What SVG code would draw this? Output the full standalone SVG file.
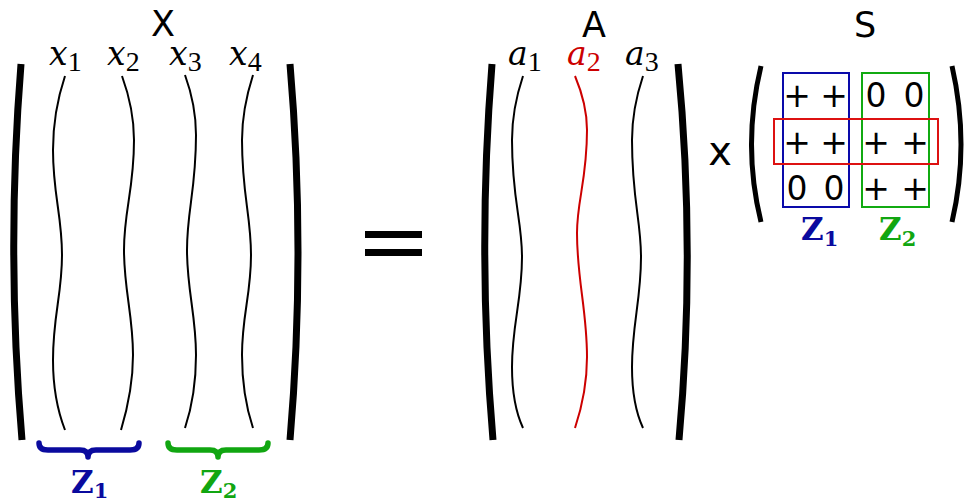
<svg xmlns="http://www.w3.org/2000/svg" width="965" height="502" viewBox="0 0 965 502">
<style>
.bar{fill:none;stroke:#000;stroke-width:7}
.par{fill:none;stroke:#000;stroke-width:5}
.crv{fill:none;stroke:#000;stroke-width:2}
.red{stroke:#cc0000}
.sans{font-family:"DejaVu Sans",sans-serif;fill:#000}
.mi{font-family:"DejaVu Serif",serif;font-style:italic;font-size:33px}
.sub{font-family:"Liberation Serif",serif;font-style:normal;font-size:28px}
.bz{font-family:"DejaVu Serif",serif;font-weight:bold;font-size:31px}
.bzs{font-family:"DejaVu Serif",serif;font-weight:bold;font-size:21px}
.ent{font-family:"DejaVu Sans",sans-serif;font-size:33px;text-anchor:middle}
.brace{fill:none;stroke-width:5.5;stroke-linecap:round;stroke-linejoin:round}
</style>
<rect width="965" height="502" fill="#fff"/>
<g id="matrixX">
  <text class="sans" x="163" y="36" font-size="35" text-anchor="middle">X</text>
  <path class="bar" d="M21 64 Q6 252 22 440"/>
  <path class="bar" d="M290 64 Q306 252 290 440"/>
  <path class="crv" d="M65 76 C57 100 53 125 53 150 C53 195 62 215 62 255 C62 295 53 315 53 360 C53 390 58 412 65 430"/>
  <path class="crv" d="M122 76 C130 98 134 118 134 140 C134 190 124 210 124 250 C124 290 133 315 133 355 C133 385 127 410 121 430"/>
  <path class="crv" d="M185 75 C193 97 196 115 196 135 C196 190 187 210 187 250 C187 290 196 315 196 355 C196 385 191 410 185 428"/>
  <path class="crv" d="M253 75 C245 100 242 120 242 140 C242 195 251 215 251 255 C251 295 242 315 242 355 C242 385 247 410 253 428"/>
  <text x="49" y="65"><tspan class="mi">x</tspan><tspan class="sub" dy="6">1</tspan></text>
  <text x="107" y="65"><tspan class="mi">x</tspan><tspan class="sub" dy="6">2</tspan></text>
  <text x="169" y="65"><tspan class="mi">x</tspan><tspan class="sub" dy="6">3</tspan></text>
  <text x="229" y="65"><tspan class="mi">x</tspan><tspan class="sub" dy="6">4</tspan></text>
</g>
<g id="bracesX">
  <path class="brace" stroke="#0a0a9e" d="M39 443 Q39 450 48 450 L80 450 Q88 450 88 457 Q88 450 96 450 L130 450 Q139 450 139 443"/>
  <path class="brace" stroke="#11a611" d="M168 443 Q168 450 177 450 L210 450 Q218 450 218 457 Q218 450 226 450 L259 450 Q268 450 268 443"/>
  <text x="71" y="493" fill="#0a0a9e"><tspan class="bz">Z</tspan><tspan class="bzs" dy="5">1</tspan></text>
  <text x="200" y="493" fill="#11a611"><tspan class="bz">Z</tspan><tspan class="bzs" dy="5">2</tspan></text>
</g>
<g id="equals">
  <rect x="365" y="231" width="57" height="7" fill="#000"/>
  <rect x="365" y="249" width="57" height="7" fill="#000"/>
</g>
<g id="matrixA">
  <text class="sans" x="594" y="37" font-size="35" text-anchor="middle">A</text>
  <path class="bar" d="M492 64 Q477 252 493 440"/>
  <path class="bar" d="M678 64 Q696 252 679 440"/>
  <path class="crv" d="M523 76 C515 100 512 120 512 140 C512 200 522 220 522 257 C522 300 512 325 512 367 C512 395 517 415 523 428"/>
  <path class="crv red" d="M575 76 C583 95 587 112 587 130 C587 180 577 200 577 233 C577 280 587 310 587 357 C587 385 581 410 575 428"/>
  <path class="crv" d="M643 76 C635 100 632 120 632 140 C632 200 641 220 641 257 C641 300 632 325 632 367 C632 395 637 415 643 428"/>
  <text x="508" y="65"><tspan class="mi">a</tspan><tspan class="sub" dy="6">1</tspan></text>
  <text x="567" y="65" fill="#cc0000"><tspan class="mi">a</tspan><tspan class="sub" dy="6">2</tspan></text>
  <text x="625" y="65"><tspan class="mi">a</tspan><tspan class="sub" dy="6">3</tspan></text>
</g>
<g id="times">
  <text class="sans" x="720" y="165" font-size="40" text-anchor="middle">x</text>
</g>
<g id="matrixS">
  <text class="sans" x="865" y="37" font-size="35" text-anchor="middle">S</text>
  <path class="par" d="M761 66 Q742 145 761 222"/>
  <path class="par" d="M952 66 Q970 145 952 222"/>
  <text class="ent" x="797" y="107">+</text><text class="ent" x="834" y="107">+</text><text class="ent" x="876" y="107">0</text><text class="ent" x="914" y="107">0</text>
  <text class="ent" x="797" y="154">+</text><text class="ent" x="834" y="154">+</text><text class="ent" x="876" y="154">+</text><text class="ent" x="915" y="154">+</text>
  <text class="ent" x="797" y="200">0</text><text class="ent" x="834" y="200">0</text><text class="ent" x="876" y="200">+</text><text class="ent" x="915" y="200">+</text>
  <rect x="783" y="73" width="66" height="134" fill="none" stroke="#0a0aaa" stroke-width="2"/>
  <rect x="862" y="73" width="67" height="134" fill="none" stroke="#11aa11" stroke-width="2"/>
  <rect x="774" y="119" width="164" height="45" fill="none" stroke="#dd1111" stroke-width="2"/>
  <text x="801" y="240" fill="#0a0a9e"><tspan class="bz">Z</tspan><tspan class="bzs" dy="6">1</tspan></text>
  <text x="879" y="240" fill="#11a611"><tspan class="bz">Z</tspan><tspan class="bzs" dy="6">2</tspan></text>
</g>
</svg>
